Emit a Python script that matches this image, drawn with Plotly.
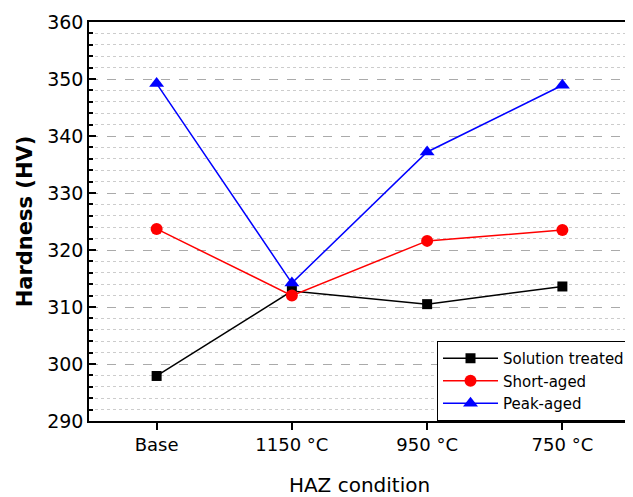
import plotly.graph_objects as go

categories = ["Base", "1150 °C", "950 °C", "750 °C"]
solution_treated = [297.9, 312.8, 310.5, 313.6]
short_aged = [323.7, 312.0, 321.6, 323.5]
peak_aged = [349.2, 314.2, 337.2, 348.9]

FONT = "DejaVu Sans"

fig = go.Figure()
fig.add_trace(go.Scatter(x=categories, y=solution_treated, mode="lines+markers",
                         name="Solution treated",
                         line=dict(color="black", width=1.5),
                         marker=dict(symbol="square", size=10, color="black")))
fig.add_trace(go.Scatter(x=categories, y=short_aged, mode="lines+markers",
                         name="Short-aged",
                         line=dict(color="#ff0000", width=1.5),
                         marker=dict(symbol="circle", size=12, color="#ff0000")))
fig.add_trace(go.Scatter(x=categories, y=peak_aged, mode="lines+markers",
                         name="Peak-aged",
                         line=dict(color="#0000ff", width=1.5),
                         marker=dict(symbol="triangle-up", size=13, color="#0000ff")))

# page body has an 8px default margin; size the figure to fill the rest
fig.update_layout(
    width=625, height=489,
    margin=dict(l=81, r=3, t=14, b=76, autoexpand=False),
    paper_bgcolor="white", plot_bgcolor="white",
    font=dict(family=FONT, color="black", size=18),
    legend=dict(x=1, y=0, xanchor="right", yanchor="bottom",
                bordercolor="black", borderwidth=1, bgcolor="white",
                font=dict(size=15, family=FONT), tracegroupgap=0,
                itemwidth=55),
    xaxis=dict(
        type="category", range=[-0.5, 3.5], automargin=False,
        showline=True, linecolor="black", linewidth=1.5, mirror=True,
        ticks="outside", ticklen=7, tickwidth=1.5, tickcolor="black",
        showgrid=False, zeroline=False,
        tickfont=dict(size=18),
        title=dict(text="HAZ condition", font=dict(size=20), standoff=28),
    ),
    yaxis=dict(
        range=[290, 360], tick0=290, dtick=10, automargin=False,
        showline=True, linecolor="black", linewidth=1.5, mirror=True,
        ticks="inside", ticklen=7, tickwidth=1.5, tickcolor="black",
        showgrid=True, gridcolor="#aaaaaa", griddash="dash", gridwidth=1,
        zeroline=False,
        tickfont=dict(size=19),
        minor=dict(dtick=2, ticks="inside", ticklen=4, tickcolor="black",
                   showgrid=True, gridcolor="#cccccc", griddash="dot", gridwidth=1),
        title=dict(text="<b>Hardness (HV)</b>", font=dict(size=21), standoff=9),
    ),
)

fig.write_html("out.html")
